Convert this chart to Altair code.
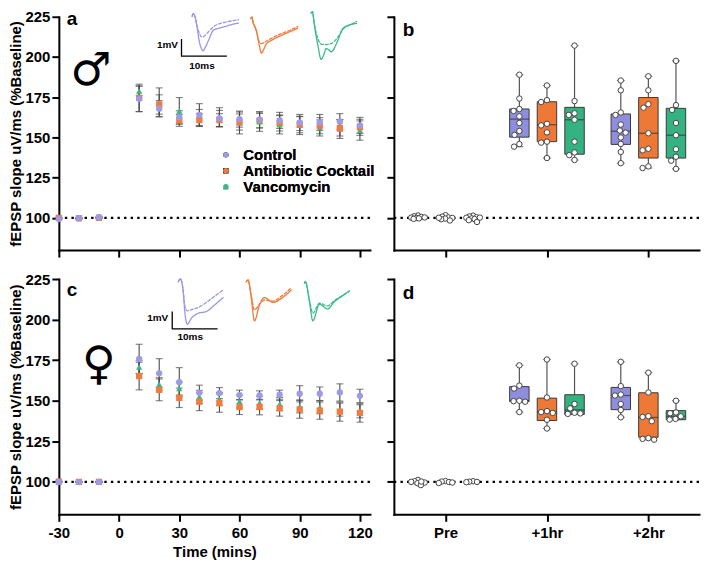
import altair as alt
import numpy as np
import pandas as pd

FONT = "Liberation Sans"
GROUPS = ["Control", "Antibiotic Cocktail", "Vancomycin"]
POINT_COLORS = ["#9d9be6", "#ef7c3f", "#3cb688"]
BOX_COLORS = ["#8f8edd", "#ee7936", "#35b281"]
TRACE_COLORS = ["#9b97e2", "#ef7b3c", "#3dbb8a"]
SHAPES = ["circle", "square", "triangle-up"]
ERR = "#4a4a4a"

TIME = [-30, -20, -10, 10, 20, 30, 40, 50, 60, 70, 80, 90, 100, 110, 120]
X_TICKS = [-30, 0, 30, 60, 90, 120]
Y_TICKS = [100, 125, 150, 175, 200, 225]
PHASES = ["Pre", "+1hr", "+2hr"]
Y_TITLE = "fEPSP slope uV/ms (%Baseline)"
X_TITLE = "Time (mins)"

# ---------------- time course, male (panel a) ----------------
male_control_mean = [99.3, 99.7, 100.4, 174.0, 167.9, 162.6, 164.0, 161.8, 161.4, 161.0, 160.6, 159.3, 159.3, 159.8, 157.5]
male_control_sem = [0.3, 0.3, 0.3, 8.0, 5.0, 4.0, 7.0, 5.0, 5.0, 5.0, 5.0, 5.0, 5.0, 5.0, 5.0]
male_ab_mean = [100.0, 99.8, 100.1, 174.6, 170.5, 160.6, 160.8, 160.8, 159.6, 160.4, 159.0, 157.9, 157.3, 155.9, 156.3]
male_ab_sem = [0.3, 0.3, 0.3, 8.5, 6.0, 3.7, 4.0, 4.0, 5.0, 4.5, 5.0, 5.0, 5.0, 5.0, 5.0]
male_v_mean = [100.0, 99.9, 100.1, 178.9, 171.8, 166.5, 162.4, 162.5, 159.0, 159.8, 157.9, 157.5, 155.9, 155.3, 154.3]
male_v_sem = [0.3, 0.3, 0.3, 3.0, 9.0, 8.3, 5.0, 6.0, 6.8, 6.0, 5.7, 5.7, 5.0, 5.9, 6.0]

# ---------------- time course, female (panel c) ----------------
female_control_mean = [100.0, 99.9, 100.0, 175.8, 166.9, 161.4, 154.9, 154.7, 153.5, 153.3, 153.7, 154.3, 154.3, 155.1, 153.0]
female_control_sem = [0.3, 0.3, 0.3, 9.0, 9.0, 9.0, 4.7, 3.4, 3.0, 2.8, 2.8, 5.0, 4.2, 5.3, 4.1]
female_ab_mean = [100.2, 100.0, 100.0, 165.2, 156.7, 151.8, 149.4, 148.6, 146.1, 146.1, 145.3, 144.7, 143.9, 143.3, 142.5]
female_ab_sem = [0.3, 0.3, 0.3, 8.5, 6.7, 6.0, 5.5, 5.7, 4.6, 4.8, 4.8, 5.5, 5.3, 5.9, 5.7]
female_v_mean = [100.0, 100.0, 100.0, 170.7, 160.2, 157.5, 152.4, 151.0, 149.6, 148.8, 148.0, 146.5, 146.0, 144.5, 143.5]
female_v_sem = [0.3, 0.3, 0.3, 4.0, 4.0, 4.0, 4.0, 4.0, 4.0, 4.0, 4.0, 4.0, 4.0, 4.0, 4.0]

# ---------------- individual slices, male (panel b) ----------------
male_pre_control = [101.5, 101.0, 100.6, 100.2, 100.0, 99.7, 99.4, 100.3]
male_pre_ab = [101.7, 100.8, 100.3, 100.0, 99.6, 99.2, 98.4, 100.1]
male_pre_v = [101.4, 100.9, 100.4, 100.1, 99.7, 99.3, 98.6, 97.5, 100.2]
male_1hr_control = [189.0, 174.2, 167.7, 166.5, 163.1, 159.0, 154.0, 151.6, 145.9, 144.3]
male_1hr_ab = [182.3, 173.2, 172.0, 158.5, 157.5, 153.2, 147.4, 146.8, 137.2]
male_1hr_v = [207.1, 172.6, 165.0, 164.0, 161.0, 147.4, 140.7, 139.0, 136.0]
male_2hr_control = [185.4, 179.3, 165.5, 164.0, 158.0, 154.3, 153.0, 150.0, 146.0, 141.0, 134.0]
male_2hr_ab = [188.0, 179.3, 170.7, 168.5, 152.6, 143.0, 142.0, 132.0, 131.0]
male_2hr_v = [197.6, 170.1, 167.1, 159.0, 151.4, 142.7, 138.0, 135.6, 130.5]
# box quartiles [Control, Antibiotic, Vancomycin]
male_1hr_q1 = [150.2, 147.4, 139.6]
male_1hr_med = [161.4, 157.9, 161.0]
male_1hr_q3 = [167.7, 172.2, 168.7]
male_2hr_q1 = [145.7, 137.2, 137.2]
male_2hr_med = [153.9, 152.6, 151.4]
male_2hr_q3 = [164.6, 174.8, 168.1]

# ---------------- individual slices, female (panel d) ----------------
female_pre_control = [101.2, 100.4, 100.0, 99.6, 99.2, 98.0, 100.2]
female_pre_ab = [100.5, 100.2, 99.9, 99.6, 99.3]
female_pre_v = [100.4, 100.1, 99.8, 100.0]
female_1hr_control = [171.8, 159.3, 157.5, 150.0, 149.7, 149.4, 143.0]
female_1hr_ab = [175.4, 152.0, 143.6, 143.0, 142.5, 138.3, 132.9]
female_1hr_v = [172.8, 148.0, 145.3, 142.6, 142.2, 141.9]
female_2hr_control = [174.0, 159.0, 153.8, 153.2, 148.0, 144.3, 139.8]
female_2hr_ab = [167.3, 155.1, 140.5, 140.0, 137.4, 127.0, 126.5, 126.0]
female_2hr_v = [150.0, 142.8, 142.3, 140.4, 138.8, 138.4]
female_1hr_q1 = [149.5, 137.8, 141.5]
female_1hr_med = [150.0, 143.3, 144.3]
female_1hr_q3 = [158.7, 151.6, 153.7]
female_2hr_q1 = [144.5, 127.5, 138.3]
female_2hr_med = [153.2, 139.7, 140.4]
female_2hr_q3 = [158.2, 154.9, 143.9]

# ---------------- representative traces (ms, mV) ----------------
m_c_t = [0, 0.2, 0.6, 1.0, 1.6, 2.1, 2.4, 2.9, 3.6, 4.7, 5.8, 7.2, 9.1, 10.2]
m_c_post = [0, 0.15, 0.0, -0.5, -1.5, -1.9, -2.0, -1.8, -1.4, -0.8, -0.7, -0.6, -0.45, -0.4]
m_c_pre = [0, 0.15, 0.0, -0.45, -1.0, -1.2, -1.2, -1.1, -0.9, -0.6, -0.45, -0.35, -0.25, -0.2]
m_a_t = [0, 0.3, 0.5, 1.3, 1.9, 2.4, 2.9, 3.5, 4.6, 6.1, 8.3, 10.4]
m_a_post = [0, 0.08, -0.16, -0.76, -1.54, -2.0, -1.78, -1.46, -1.26, -1.06, -0.8, -0.56]
m_a_pre = [0, 0.08, -0.16, -0.7, -1.35, -1.45, -1.4, -1.3, -1.15, -0.95, -0.72, -0.46]
m_v_t = [0, 0.3, 0.7, 1.5, 2.2, 2.8, 3.3, 3.9, 4.4, 5.9, 7.0, 8.9, 10.0]
m_v_post = [0, 0.07, -0.69, -1.89, -2.69, -2.41, -2.06, -2.14, -2.25, -1.59, -0.9, -0.66, -0.6]
m_v_pre = [0, 0.07, -0.6, -1.5, -1.8, -1.82, -1.83, -1.8, -1.78, -1.4, -0.95, -0.65, -0.5]
f_c_t = [0, 0.5, 1.1, 1.45, 2.0, 2.9, 4.4, 6.2, 8.0, 9.9]
f_c_post = [0, 0.16, -0.58, -1.73, -2.47, -2.12, -1.83, -1.73, -1.35, -0.92]
f_c_pre = [0, 0.16, -0.5, -1.4, -1.69, -1.62, -1.5, -1.2, -0.85, -0.48]
f_a_t = [0, 0.4, 1.1, 1.8, 2.9, 4.0, 5.9, 7.7, 9.9]
f_a_post = [0, 0.1, -0.97, -2.27, -1.35, -0.92, -1.2, -0.97, -0.48]
f_a_pre = [0, 0.1, -0.8, -1.64, -1.3, -1.06, -1.12, -0.85, -0.35]
f_v_t = [0, 0.2, 1.1, 1.85, 3.3, 5.1, 6.6, 8.1, 9.9]
f_v_post = [0, 0.1, -1.06, -2.17, -1.21, -1.48, -1.06, -0.77, -0.44]
f_v_pre = [0, 0.1, -0.95, -1.73, -1.15, -1.3, -1.0, -0.75, -0.45]
SCALEBAR_MV = 1
SCALEBAR_MS = 10

# ---------------- layout (pixels) ----------------
W_L, W_R = 312, 306
H_TOP, H_BOT = 234, 236
Y_DOM = [80, 225]
X_DOM = [-30, 125]
XR_DOM = [-0.46, 2.45]
GROUP_OFF = 0.272
BOX_W = 19.5
PXMS, PXMV = 4.55, 17.3
LETTER_SIZE = 19
INSET_M = dict(starts=[(133.7, -0.5), (192.3, 1.8), (253.0, -3.8)], corner=(123.0, 39.5),
               mv_label=(119.5, 28.8), ms_label=(143.5, 49.0))
INSET_F = dict(starts=[(119.7, 2.7), (188.0, 2.7), (246.3, 4.4)], corner=(113.7, 50.0),
               mv_label=(109.7, 39.4), ms_label=(131.7, 58.0))


def y_enc(field, H, left):
    ax = alt.Axis(values=Y_TICKS, labels=left, labelPadding=2, titlePadding=1, format="d")
    return alt.Y(field, scale=alt.Scale(domain=Y_DOM, nice=False, zero=False), axis=ax,
                 title=Y_TITLE if left else None)


def text_layer(s, x, y, size, font=FONT, align="left", baseline="middle"):
    return alt.Chart(pd.DataFrame({"s": [s]})).mark_text(
        font=font, fontSize=size, fontWeight="bold", align=align, baseline=baseline, color="black"
    ).encode(text="s:N", x=alt.value(x), y=alt.value(y))


def letter_layer(s, x, base_y):
    # baseline given in pixels; drawn with a middle baseline so the text box stays compact
    return text_layer(s, x, base_y - 0.35 * LETTER_SIZE, LETTER_SIZE)


def dotted(H, left):
    return alt.Chart(pd.DataFrame({"ref": [100.0]})).mark_rule(
        color="black", strokeWidth=2.2, strokeDash=[2.4, 4.2]
    ).encode(y=y_enc("ref:Q", H, left))


def inset(traces, lay, H):
    x0, y0 = lay["starts"][0]
    rows = []
    for gi, (t, post, pre) in enumerate(traces):
        sx, sy = lay["starts"][gi]
        dt = (sx - x0) / PXMS
        dv = -(sy - y0) / PXMV
        for cond, vals in (("post", post), ("pre", pre)):
            for tk, vk in zip(t, vals):
                rows.append(dict(xi=tk + dt, yi=vk + dv, group=GROUPS[gi], cond=cond))
    df = pd.DataFrame(rows)
    XI = alt.X("xi:Q", scale=alt.Scale(domain=[-x0 / PXMS, (W_L - x0) / PXMS], nice=False, zero=False), axis=None)
    YI = alt.Y("yi:Q", scale=alt.Scale(domain=[-(H - y0) / PXMV, y0 / PXMV], nice=False, zero=False), axis=None)
    lines = alt.Chart(df).mark_line(strokeWidth=1.3, interpolate="monotone", strokeJoin="round",
                                    strokeCap="round").encode(
        x=XI, y=YI,
        color=alt.Color("group:N", scale=alt.Scale(domain=GROUPS, range=TRACE_COLORS), legend=None),
        strokeDash=alt.StrokeDash("cond:N", scale=alt.Scale(domain=["pre", "post"], range=[[3, 2], [1, 0]]), legend=None),
    )
    cx, cy = lay["corner"]
    ct, cv = (cx - x0) / PXMS, -(cy - y0) / PXMV
    sb = pd.DataFrame(dict(xi=[ct, ct, ct + SCALEBAR_MS], yi=[cv + SCALEBAR_MV, cv, cv], i=[0, 1, 2]))
    bar = alt.Chart(sb).mark_line(color="black", strokeWidth=1.3, strokeJoin="round").encode(
        x=XI, y=YI, order="i:Q")
    lx, ly = lay["mv_label"]
    mx, my = lay["ms_label"]
    labs = pd.DataFrame(dict(
        xi=[(lx - x0) / PXMS, (mx - x0) / PXMS], yi=[-(ly - y0) / PXMV, -(my - y0) / PXMV],
        s=[f"{SCALEBAR_MV}mV", f"{SCALEBAR_MS}ms"]))
    t1 = alt.Chart(labs.iloc[[0]]).mark_text(font=FONT, fontSize=10, fontWeight="bold", align="right",
                                             baseline="middle", color="black").encode(x=XI, y=YI, text="s:N")
    t2 = alt.Chart(labs.iloc[[1]]).mark_text(font=FONT, fontSize=10, fontWeight="bold", align="center",
                                             baseline="middle", color="black").encode(x=XI, y=YI, text="s:N")
    return alt.layer(lines, bar, t1, t2)


def time_panel(means, sems, H, show_x, legend, letter, letter_y, symbol, sym_xy, traces, lay):
    rows = []
    for gi in (2, 1, 0):
        for t, m, s in zip(TIME, means[gi], sems[gi]):
            rows.append(dict(time=t, mean=m, lo=m - s, hi=m + s, group=GROUPS[gi]))
    df = pd.DataFrame(rows)
    X = alt.X("time:Q", scale=alt.Scale(domain=X_DOM, nice=False, zero=False),
              axis=alt.Axis(values=X_TICKS, labels=show_x, labelFlush=False, labelPadding=4, titlePadding=4,
                            labelExpr="'' + datum.value"),
              title=X_TITLE if show_x else None)
    base = alt.Chart(df)
    err = base.mark_rule(color=ERR, strokeWidth=1.1).encode(x=X, y=y_enc("lo:Q", H, True), y2="hi:Q")
    caps = base.transform_fold(["lo", "hi"], as_=["end", "val"]).mark_tick(
        orient="horizontal", size=7, thickness=1.1, color=ERR).encode(x=X, y=y_enc("val:Q", H, True))
    if legend:
        leg = alt.Legend(orient="none", legendX=160, legendY=131, title=None, labelFont=FONT, labelFontSize=15,
                         labelFontWeight="bold", labelColor="black", symbolSize=30, rowPadding=0,
                         labelOffset=10, symbolStrokeWidth=0)
    else:
        leg = None
    col = alt.Color("group:N", scale=alt.Scale(domain=GROUPS, range=POINT_COLORS), legend=leg)
    shp = alt.Shape("group:N", scale=alt.Scale(domain=GROUPS, range=SHAPES), legend=leg)
    pts = base.mark_point(filled=True, opacity=1, size=40).encode(
        x=X, y=y_enc("mean:Q", H, True), color=col, shape=shp)
    main = alt.layer(
        dotted(H, True), err, caps, pts,
        letter_layer(letter, 8, letter_y),
        text_layer(symbol, sym_xy[0], sym_xy[1], 46, font="DejaVu Sans", align="center"),
    )
    return alt.layer(main, inset(traces, lay, H)).resolve_scale(
        x="independent", y="independent", color="independent").properties(width=W_L, height=H)


def swarm(vals, ppu, diam, maxdx):
    cands = sorted([k * 0.5 for k in range(-int(maxdx * 2), int(maxdx * 2) + 1)], key=lambda c: (abs(c), c))
    order = sorted(range(len(vals)), key=lambda i: -vals[i])
    placed, out = [], [0.0] * len(vals)
    for i in order:
        y = vals[i] * ppu
        chosen = None
        for c in cands:
            if all((c - px) ** 2 + (y - py) ** 2 >= diam ** 2 for px, py in placed):
                chosen = c
                break
        if chosen is None:
            chosen = max(cands, key=lambda c: min((c - px) ** 2 + (y - py) ** 2 for px, py in placed))
        placed.append((chosen, y))
        out[i] = chosen
    return out


def box_panel(pre, one, two, q1s, meds, q3s, H, show_x, letter, letter_y):
    ppu_y = H / (Y_DOM[1] - Y_DOM[0])
    ppu_x = W_R / (XR_DOM[1] - XR_DOM[0])
    prow, brow = [], []
    for ti, lists in enumerate((pre, one, two)):
        for gi, vals in enumerate(lists):
            center = ti + (gi - 1) * GROUP_OFF
            dxs = swarm(vals, ppu_y, 3.6 if ti == 0 else 6.0, 7 if ti == 0 else 9)
            for v, dx in zip(vals, dxs):
                prow.append(dict(xp=center + dx / ppu_x, val=v, group=GROUPS[gi]))
            if ti > 0:
                brow.append(dict(xb=center, q1=q1s[ti - 1][gi], med=meds[ti - 1][gi], q3=q3s[ti - 1][gi],
                                 lo=min(vals), hi=max(vals), group=GROUPS[gi]))
    pdf, bdf = pd.DataFrame(prow), pd.DataFrame(brow)
    lab_expr = "[" + ",".join(f"'{p}'" for p in PHASES) + "][datum.value]"
    xs = alt.Scale(domain=XR_DOM, nice=False, zero=False)
    xax = alt.Axis(values=[0, 1, 2], labels=show_x, labelExpr=lab_expr, labelFlush=False, labelPadding=4)
    XB = alt.X("xb:Q", scale=xs, axis=xax, title=None)
    XP = alt.X("xp:Q", scale=xs, axis=xax, title=None)
    bb = alt.Chart(bdf)
    whisk = bb.mark_rule(color="#555555", strokeWidth=1.2).encode(x=XB, y=y_enc("lo:Q", H, False), y2="hi:Q")
    box = bb.mark_bar(width=BOX_W, stroke="#3a3a3a", strokeWidth=1, opacity=1, orient="vertical").encode(
        x=XB, y=y_enc("q1:Q", H, False), y2="q3:Q",
        color=alt.Color("group:N", scale=alt.Scale(domain=GROUPS, range=BOX_COLORS), legend=None))
    med = bb.mark_tick(orient="horizontal", size=BOX_W, thickness=1.3, color="#333333").encode(
        x=XB, y=y_enc("med:Q", H, False))
    caps = bb.transform_fold(["lo", "hi"], as_=["end", "val"]).mark_tick(
        orient="horizontal", size=8, thickness=1.2, color="#555555").encode(x=XB, y=y_enc("val:Q", H, False))
    pts = alt.Chart(pdf).mark_point(shape="circle", filled=True, fill="white", stroke="#444444",
                                    strokeWidth=1, size=30, opacity=1).encode(x=XP, y=y_enc("val:Q", H, False))
    return alt.layer(dotted(H, False), whisk, box, med, caps, pts,
                     letter_layer(letter, 9, letter_y)).properties(width=W_R, height=H)


male_traces = [(m_c_t, m_c_post, m_c_pre), (m_a_t, m_a_post, m_a_pre), (m_v_t, m_v_post, m_v_pre)]
female_traces = [(f_c_t, f_c_post, f_c_pre), (f_a_t, f_a_post, f_a_pre), (f_v_t, f_v_post, f_v_pre)]

pa = time_panel([male_control_mean, male_ab_mean, male_v_mean], [male_control_sem, male_ab_sem, male_v_sem],
                H_TOP, False, True, "a", 8.5, "\u2642", (32, 54), male_traces, INSET_M)
pc = time_panel([female_control_mean, female_ab_mean, female_v_mean], [female_control_sem, female_ab_sem, female_v_sem],
                H_BOT, True, False, "c", 17.5, "\u2640", (40, 86), female_traces, INSET_F)
pb = box_panel([male_pre_control, male_pre_ab, male_pre_v], [male_1hr_control, male_1hr_ab, male_1hr_v],
               [male_2hr_control, male_2hr_ab, male_2hr_v],
               [male_1hr_q1, male_2hr_q1], [male_1hr_med, male_2hr_med], [male_1hr_q3, male_2hr_q3],
               H_TOP, False, "b", 20)
pd_ = box_panel([female_pre_control, female_pre_ab, female_pre_v], [female_1hr_control, female_1hr_ab, female_1hr_v],
                [female_2hr_control, female_2hr_ab, female_2hr_v],
                [female_1hr_q1, female_2hr_q1], [female_1hr_med, female_2hr_med], [female_1hr_q3, female_2hr_q3],
                H_BOT, True, "d", 21)

chart = alt.concat(pa, pb, pc, pd_, columns=2, spacing={"row": 29, "column": 24}, bounds="flush").resolve_scale(
    x="independent", y="independent", color="independent", shape="independent", strokeDash="independent"
).properties(padding=0).configure_view(stroke="transparent").configure_axis(
    domainColor="black", domainWidth=2, domainCap="square", tickColor="black", tickWidth=2, tickSize=7,
    labelFont=FONT, labelFontSize=15, labelFontWeight="bold", labelColor="black",
    titleFont=FONT, titleFontSize=15, titleFontWeight="bold", titleColor="black", grid=False
)

chart.save("out.html", embed_options={"renderer": "svg", "actions": False})
